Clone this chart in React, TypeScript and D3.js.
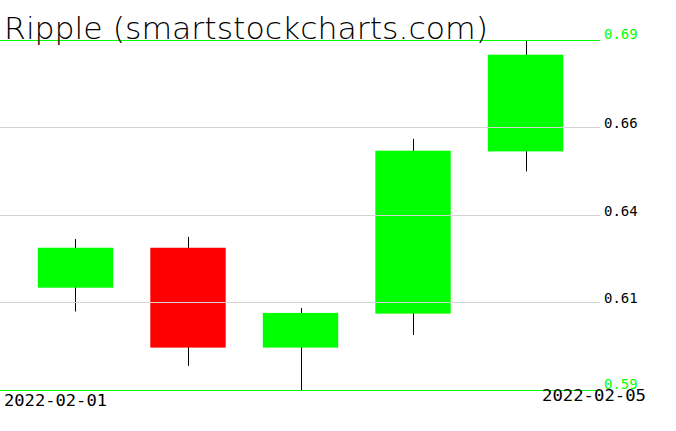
import React from 'react'
import * as d3 from 'd3'

// daily OHLC for Ripple
const dates = ['2022-02-01', '2022-02-02', '2022-02-03', '2022-02-04', '2022-02-05']
const opens = [0.6192, 0.6306, 0.6021, 0.6118, 0.6581]
const highs = [0.6331, 0.6337, 0.6134, 0.6617, 0.6899]
const lows = [0.6124, 0.5969, 0.5900, 0.6057, 0.6524]
const closes = [0.6306, 0.6021, 0.6120, 0.6583, 0.6857]

const tickValues = [0.69, 0.665, 0.64, 0.615, 0.59]
const tickLabels = ['0.69', '0.66', '0.64', '0.61', '0.59']

const W = 676
const H = 431

export default function App() {
  const x = d3.scaleBand<string>()
    .domain(dates)
    .range([19, 582])
    .paddingInner(0.33)
    .paddingOuter(0.167)

  const y = d3.scaleLinear()
    .domain([d3.min(lows)!, d3.max(highs)!])
    .range([390, 40])

  const mono = '"DejaVu Sans Mono", monospace'

  return (
    <svg width={W} height={H} style={{position: 'absolute', left: 0, top: 0, background: '#fff'}}>
      {dates.map((d, i) => {
        const cx = Math.round(x(d)! + x.bandwidth() / 2) + 0.5
        const up = closes[i] >= opens[i]
        const top = y(Math.max(opens[i], closes[i]))
        const bot = y(Math.min(opens[i], closes[i]))
        return (
          <g key={d}>
            <line x1={cx} x2={cx} y1={y(highs[i])} y2={y(lows[i])} stroke="#000" strokeWidth={1} />
            <rect x={x(d)} y={top} width={x.bandwidth()} height={bot - top}
              fill={up ? '#00ff00' : '#ff0000'} />
          </g>
        )
      })}

      {tickValues.map((v, i) => {
        const edge = i === 0 || i === tickValues.length - 1
        const yy = Math.round(y(v)) + 0.5
        return (
          <g key={i}>
            <line x1={0} x2={600} y1={yy} y2={yy} stroke={edge ? '#00ff00' : '#d3d3d3'} strokeWidth={1} />
            <text x={604} y={yy + (edge ? -2 : 0)} fontFamily={mono} fontSize={14}
              fill={edge ? '#00ff00' : '#000'}>{tickLabels[i]}</text>
          </g>
        )
      })}

      <text x={4} y={406} fontFamily={mono} fontSize={15} textLength={103} lengthAdjust="spacingAndGlyphs">{dates[0]}</text>
      <text x={542} y={401} fontFamily={mono} fontSize={15} textLength={104} lengthAdjust="spacingAndGlyphs">{dates[dates.length - 1]}</text>

      <text x={4} y={39} fontFamily='"DejaVu Sans", sans-serif' fontWeight={200} fontSize={31}
        textLength={484} lengthAdjust="spacingAndGlyphs" fill="#000">Ripple (smartstockcharts.com)</text>
    </svg>
  )
}
